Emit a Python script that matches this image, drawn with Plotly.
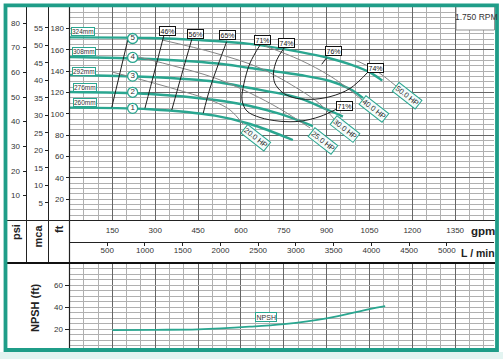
import plotly.graph_objects as go

W, H = 503, 359

# ---------------- data ----------------
gpm_ticks = [150, 300, 450, 600, 750, 900, 1050, 1200, 1350]
lmin_ticks = [500, 1000, 1500, 2000, 2500, 3000, 3500, 4000, 4500, 5000]
ft_ticks = [20, 40, 60, 80, 100, 120, 140, 160, 180]
psi_ticks = [10, 20, 30, 40, 50, 60, 70, 80]
mca_ticks = [5, 10, 15, 20, 25, 30, 35, 40, 45, 50, 55]
npsh_ticks = [20, 40, 60]

diameters = ["324mm", "308mm", "292mm", "276mm", "260mm"]
curve_nums = ["5", "4", "3", "2", "1"]

q_324 = [0, 280, 455, 630, 805, 910, 980, 1050, 1095]
h_324 = [171.5, 171, 169, 165.5, 158, 152, 146.5, 139, 131]
q_308 = [0, 282, 509, 632, 807, 912, 982, 1027]
h_308 = [153.2, 151.3, 147.3, 142.9, 136.3, 130.7, 123.2, 114.8]
q_292 = [0, 282, 509, 632, 761, 807, 905, 957]
h_292 = [136.3, 134.4, 130.0, 124.1, 117.6, 114.3, 103.5, 97.4]
q_276 = [0, 282, 509, 632, 737, 852]
h_276 = [120.4, 118.5, 112.9, 107.3, 99.8, 88.5]
q_260 = [0, 282, 509, 632, 782]
h_260 = [105.7, 104.2, 98.2, 90.4, 75.4]

label_q = [48, 50, 49, 54, 54]
label_h = [177.2, 158.5, 140.0, 125.0, 110.4]
circle_q = [221, 221, 221, 221, 221]
circle_h = [170.5, 152.8, 135.3, 120.1, 105.1]

# efficiency iso-lines
eff_lines = [
    ([206, 148], [171.4, 106.0]),
    ([331, 298, 264], [174.0, 140.0, 105.1]),
    ([428, 393, 358], [169.7, 137.0, 103.5]),
    ([550, 520, 492, 468], [167.5, 145.7, 124.1, 100.4]),
    ([667, 632, 611, 604, 621, 667, 737, 807, 877, 936],
     [164.4, 147.5, 128.6, 112.9, 102.6, 96.5, 93.0, 93.0, 97.4, 104.5]),
    ([751, 726, 714, 719, 744, 782, 842, 912, 982, 1045],
     [161.6, 150.6, 138.2, 128.6, 120.3, 115.2, 113.5, 116.0, 123.7, 139.1]),
    ([900, 883], [152.5, 146.3]),
]
eff_labels = ["46%", "56%", "65%", "71%", "74%", "76%", "71%", "74%"]
eff_label_q = [343, 441, 553, 674, 760, 923, 964, 1072]
eff_label_h = [177.1, 174.4, 173.5, 169.4, 166.3, 158.8, 107.5, 142.9]

# power iso-lines
hp_lines = [
    ([149, 282, 404, 502, 562, 607], [139.1, 129.7, 120.4, 111.9, 103.5, 90.4]),
    ([219, 352, 509, 632, 737, 842], [154.6, 145.7, 133.5, 119.4, 104.5, 86.7]),
    ([324, 509, 667, 807, 877, 926], [169.1, 156.9, 142.8, 122.2, 109.1, 95.1]),
    ([684, 807, 912, 982, 1024], [163.5, 150.4, 135.4, 122.2, 112.9]),
    ([999, 1069, 1143], [150.4, 141.0, 126.0]),
]
hp_labels = ["20.0 HP", "25.0 HP", "30.0 HP", "40.0 HP", "50.0 HP"]
hp_label_q = [654, 887, 964, 1066, 1183]
hp_label_h = [77.7, 74.5, 85.7, 104.5, 116.6]

npsh_q = [150, 300, 450, 630, 750, 900, 1050, 1105]
npsh_h = [19.4, 19.6, 20.0, 22.4, 24.8, 30.0, 38.4, 41.1]
npsh_label_q, npsh_label_h = 689, 31.5

# ---------------- style ----------------
TEAL = "#1f9d88"
TEAL_C = "#2aa690"
MINOR = "#b0b0b0"
MAJOR = "#666666"
FONT = "Liberation Sans, Arial, sans-serif"
GPM_MAX = 1486
FT_MAX = 200


def px(x):
    return x / W


def py(y):
    return 1 - y / H


XL, XR = px(69.5), px(494)
fig = go.Figure()

# head curves
for q, h in [(q_324, h_324), (q_308, h_308), (q_292, h_292), (q_276, h_276), (q_260, h_260)]:
    fig.add_trace(go.Scatter(x=q, y=h, mode="lines", line=dict(color=TEAL_C, width=2.4, shape="spline"),
                             hoverinfo="skip"))
# power lines
for q, h in hp_lines:
    fig.add_trace(go.Scatter(x=q, y=h, mode="lines", line=dict(color="#858585", width=1, shape="spline"),
                             hoverinfo="skip"))
# efficiency lines
for q, h in eff_lines:
    fig.add_trace(go.Scatter(x=q, y=h, mode="lines", line=dict(color="#1e1e1e", width=1, shape="spline"),
                             hoverinfo="skip"))
# circles
fig.add_trace(go.Scatter(x=circle_q, y=circle_h, mode="markers+text", text=curve_nums,
                         textposition="middle center", textfont=dict(size=8, color="#333", family=FONT),
                         marker=dict(size=10, color="white", line=dict(color=TEAL_C, width=1.3)),
                         hoverinfo="skip"))
# NPSH
fig.add_trace(go.Scatter(x=npsh_q, y=npsh_h, mode="lines", xaxis="x2", yaxis="y2",
                         line=dict(color=TEAL_C, width=1.8, shape="spline"), hoverinfo="skip"))
# dummy traces for label axes
for ax in ["y3", "y4", "y5"]:
    fig.add_trace(go.Scatter(x=[0], y=[0], yaxis=ax, mode="markers", marker=dict(opacity=0),
                             hoverinfo="skip"))
for ax in ["x3", "x4"]:
    fig.add_trace(go.Scatter(x=[0], y=[0], xaxis=ax, mode="markers", marker=dict(opacity=0),
                             hoverinfo="skip"))

tickfont = dict(size=8, color="#333", family=FONT)
grid_x = dict(range=[0, GPM_MAX], domain=[XL, XR], tick0=0, dtick=150, showgrid=True, gridcolor=MAJOR,
              gridwidth=1, minor=dict(dtick=50, tick0=0, showgrid=True, gridcolor=MINOR, gridwidth=1),
              showticklabels=False, ticks="", zeroline=False, showline=False, fixedrange=True)
lab_y = dict(overlaying="y", anchor="free", side="left", ticks="outside", ticklen=4, tickcolor="#222",
             tickfont=tickfont, showgrid=False, zeroline=False, showline=False, ticklabeloverflow="allow")

fig.update_layout(
    width=W, height=H, margin=dict(l=0, r=0, t=0, b=0), autosize=False,
    paper_bgcolor="white", plot_bgcolor="white", showlegend=False,
    font=dict(family=FONT),
    xaxis=dict(grid_x, anchor="y"),
    yaxis=dict(range=[0, FT_MAX], domain=[py(220.5), py(7)], anchor="x", tick0=0, dtick=40,
               showgrid=True, gridcolor=MAJOR, gridwidth=1,
               minor=dict(dtick=5, tick0=0, showgrid=True, gridcolor=MINOR, gridwidth=1),
               showticklabels=False, ticks="", zeroline=False, showline=False),
    xaxis2=dict(grid_x, anchor="y2"),
    yaxis2=dict(range=[0, 80], domain=[py(351.5), py(263)], anchor="x2", tickvals=npsh_ticks,
                showgrid=True, gridcolor=MINOR, gridwidth=1,
                minor=dict(dtick=5, tick0=0, showgrid=True, gridcolor=MINOR, gridwidth=1),
                ticks="outside", ticklen=4, tickcolor="#222", tickfont=tickfont,
                zeroline=False, showline=False, ticklabeloverflow="allow"),
    yaxis3=dict(lab_y, position=px(26.5), range=[0, FT_MAX / 2.31], tickvals=psi_ticks,
                showticklabels=False),
    yaxis4=dict(lab_y, position=px(48.5), range=[0, FT_MAX / 3.281], tickvals=mca_ticks),
    yaxis5=dict(lab_y, position=XL, range=[0, FT_MAX], tickvals=ft_ticks),
    xaxis3=dict(overlaying="x", anchor="free", position=py(220.5), side="bottom", range=[0, GPM_MAX],
                tickvals=gpm_ticks, ticks="", tickfont=tickfont, ticklabelstandoff=3,
                showgrid=False, zeroline=False, showline=False, ticklabeloverflow="allow"),
    xaxis4=dict(overlaying="x", anchor="free", position=py(242.3), side="bottom",
                range=[0, GPM_MAX * 3.7854], tickvals=lmin_ticks, ticks="outside", ticklen=3,
                ticklabelstandoff=-3, ticklabeloverflow="allow",
                tickcolor="#222", tickfont=tickfont, showgrid=False, zeroline=False,
                showline=True, linecolor="#222", linewidth=1),
)

shapes = []
# light band below frame
shapes.append(dict(type="rect", xref="paper", yref="paper", x0=0, x1=1, y0=0, y1=py(352),
                   fillcolor="#e3f4f1", line=dict(width=0), layer="below"))
# column separators
for xx in [26.5, 48.5]:
    shapes.append(dict(type="line", xref="paper", yref="paper", x0=px(xx), x1=px(xx), y0=py(263), y1=py(7),
                       line=dict(color="#222", width=1)))
shapes.append(dict(type="line", xref="paper", yref="paper", x0=XL, x1=XL, y0=py(351.5), y1=py(7),
                   line=dict(color="#222", width=1.2)))
shapes.append(dict(type="line", xref="paper", yref="paper", x0=px(7), x1=px(495), y0=py(220.5), y1=py(220.5),
                   line=dict(color="#222", width=1.2)))
shapes.append(dict(type="line", xref="paper", yref="paper", x0=px(7), x1=px(495), y0=py(263), y1=py(263),
                   line=dict(color="#111", width=2.2)))
# RPM box
shapes.append(dict(type="rect", xref="paper", yref="paper", x0=px(456), x1=px(494.5), y0=py(30), y1=py(6),
                   fillcolor="white", line=dict(color="#777", width=0.8)))
# frame
shapes.append(dict(type="rect", xref="paper", yref="paper", x0=px(5.5), x1=px(497), y0=py(350), y1=py(5.3),
                   line=dict(color=TEAL, width=3.8)))
fig.update_layout(shapes=shapes)

C = dict(xanchor="center", yanchor="middle", showarrow=False)
ann = []
# psi tick labels placed on the psi axis scale
for v in psi_ticks:
    ann.append(dict(x=px(21.5), y=v, xref="paper", yref="y3", text=str(v), showarrow=False,
                    xanchor="right", yanchor="middle", font=tickfont))
for t, q, h in zip(diameters, label_q, label_h):
    ann.append(dict(C, x=q, y=h, xref="x", yref="y", text=t,
                    font=dict(size=6.5, color="#333", family=FONT), bgcolor="white",
                    bordercolor=TEAL_C, borderwidth=1, borderpad=0))
for t, q, h in zip(eff_labels, eff_label_q, eff_label_h):
    ann.append(dict(C, x=q, y=h, xref="x", yref="y", text=t,
                    font=dict(size=7, color="#111", family=FONT), bgcolor="white",
                    bordercolor="#111", borderwidth=1, borderpad=0.5))
for t, q, h in zip(hp_labels, hp_label_q, hp_label_h):
    ann.append(dict(C, x=q, y=h, xref="x", yref="y", text=t, textangle=38,
                    font=dict(size=7.5, color="#222", family=FONT), bgcolor="#f4fbfa",
                    bordercolor=TEAL_C, borderwidth=1, borderpad=0.5))
ann.append(dict(C, x=npsh_label_q, y=npsh_label_h, xref="x2", yref="y2", text="NPSH",
                font=dict(size=7, color="#333", family=FONT), bgcolor="white",
                bordercolor=TEAL_C, borderwidth=1, borderpad=0.5))
bold = dict(size=11, color="#222", family=FONT)
ann.append(dict(C, x=px(16), y=py(232), xref="paper", yref="paper", text="<b>psi</b>", textangle=-90,
                font=bold))
ann.append(dict(C, x=px(37.5), y=py(236), xref="paper", yref="paper", text="<b>mca</b>", textangle=-90,
                font=bold))
ann.append(dict(C, x=px(59), y=py(229), xref="paper", yref="paper", text="<b>ft</b>", textangle=-90,
                font=bold))
ann.append(dict(C, x=px(35), y=py(308), xref="paper", yref="paper", text="<b>NPSH (ft)</b>", textangle=-90,
                font=bold))
ann.append(dict(C, x=px(483), y=py(230.5), xref="paper", yref="paper", text="<b>gpm</b>",
                font=dict(size=11.5, color="#222", family=FONT)))
ann.append(dict(C, x=px(477.5), y=py(252.5), xref="paper", yref="paper", text="<b>L / min</b>",
                font=dict(size=10.5, color="#222", family=FONT)))
ann.append(dict(C, x=px(476), y=py(17), xref="paper", yref="paper", text="1.750 RPM",
                font=dict(size=8.5, color="#333", family=FONT)))
fig.update_layout(annotations=ann)

fig.write_html("out.html", config={"displayModeBar": False, "staticPlot": True},
               post_script="document.body.style.margin='0';document.body.style.padding='0';"
                           "document.body.style.overflow='hidden';")
